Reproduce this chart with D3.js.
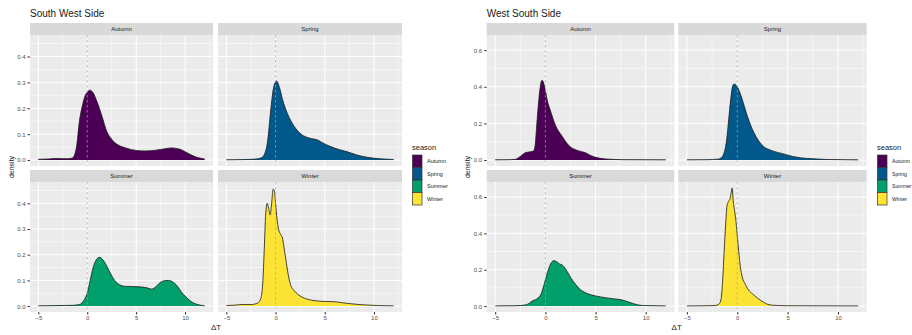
<!DOCTYPE html>
<html>
<head>
<meta charset="utf-8">
<script src="https://cdn.jsdelivr.net/npm/d3@7"></script>
<style>
  body { margin: 0; background: #fff; }
  text { font-family: "Liberation Sans", Arial, sans-serif; }
</style>
</head>
<body>
<div id="svg"></div>
<script>
// ---- data: [ΔT, density] ----
const seasons = ['Autumn', 'Spring', 'Summer', 'Winter'];
const seasonColors = ['#4B0055', '#00588B', '#009F6B', '#FDE333'];

const swAutumn = [[-5,0.003],[-4,0.004],[-3.2,0.006],[-2,0.005],[-1.5,0.008],[-1.1,0.05],[-0.8,0.15],[-0.5,0.21],[-0.2,0.25],[0,0.262],[0.25,0.27],[0.6,0.26],[1,0.225],[1.5,0.17],[2,0.11],[2.5,0.08],[3,0.062],[4,0.046],[5,0.037],[6,0.035],[7,0.038],[8,0.044],[8.6,0.047],[9.1,0.045],[9.6,0.04],[10.1,0.03],[10.6,0.02],[11.1,0.012],[11.6,0.007],[12,0.004]];
const swSpring = [[-5,0.001],[-3,0.002],[-2,0.004],[-1.4,0.01],[-1.1,0.025],[-0.8,0.075],[-0.5,0.19],[-0.2,0.28],[0.1,0.305],[0.4,0.28],[0.7,0.235],[1.2,0.18],[1.9,0.13],[2.6,0.1],[3.5,0.084],[4.3,0.077],[4.7,0.068],[5.6,0.052],[6.5,0.04],[7.3,0.032],[8.2,0.02],[9,0.013],[10,0.007],[11,0.004],[12,0.002]];
const swSummer = [[-5,0.001],[-3,0.002],[-1.5,0.003],[-0.8,0.006],[-0.3,0.025],[0,0.05],[0.3,0.1],[0.6,0.15],[0.95,0.182],[1.25,0.19],[1.6,0.18],[1.9,0.162],[2.4,0.125],[2.8,0.1],[3.3,0.083],[3.8,0.077],[4.5,0.076],[5.3,0.075],[6.1,0.071],[6.6,0.066],[7,0.075],[7.4,0.09],[7.9,0.099],[8.3,0.1],[8.7,0.095],[9.2,0.078],[9.6,0.056],[10.1,0.035],[10.6,0.018],[11.2,0.007],[11.8,0.002],[12,0.001]];
const swWinter = [[-5,0.002],[-4,0.004],[-3.5,0.006],[-2.5,0.006],[-1.8,0.012],[-1.5,0.03],[-1.3,0.09],[-1.15,0.22],[-1,0.36],[-0.85,0.4],[-0.7,0.38],[-0.55,0.355],[-0.4,0.4],[-0.25,0.455],[-0.12,0.45],[0,0.4],[0.15,0.34],[0.3,0.3],[0.5,0.28],[0.7,0.265],[0.85,0.23],[1.05,0.18],[1.3,0.12],[1.55,0.08],[1.9,0.06],[2.25,0.046],[2.8,0.033],[3.3,0.026],[4,0.021],[5,0.018],[6,0.017],[6.8,0.013],[7.7,0.009],[8.5,0.006],[9.4,0.004],[10.5,0.002],[12,0.001]];

const wsAutumn = [[-5,0.001],[-3.5,0.002],[-3,0.004],[-2.5,0.02],[-2,0.04],[-1.5,0.045],[-1.17,0.05],[-1,0.09],[-0.85,0.2],[-0.67,0.32],[-0.45,0.42],[-0.33,0.435],[-0.17,0.42],[0,0.38],[0.17,0.33],[0.5,0.27],[1,0.19],[1.67,0.13],[2.33,0.08],[3.33,0.05],[4,0.04],[4.5,0.025],[5,0.015],[6,0.006],[7.7,0.002],[12,0.001]];
const wsSpring = [[-5,0.001],[-3,0.002],[-1.9,0.005],[-1.6,0.012],[-1.3,0.04],[-1.05,0.11],[-0.85,0.22],[-0.65,0.33],[-0.45,0.405],[-0.3,0.415],[0,0.4],[0.25,0.37],[0.5,0.33],[1,0.24],[1.65,0.15],[2.5,0.08],[3.5,0.05],[4.5,0.035],[5.5,0.02],[6.3,0.012],[7.2,0.008],[9,0.003],[12,0.001]];
const wsSummer = [[-5,0.001],[-3,0.002],[-2,0.006],[-1.6,0.016],[-1.33,0.028],[-1,0.035],[-0.67,0.048],[-0.4,0.07],[-0.17,0.11],[0.1,0.165],[0.33,0.205],[0.6,0.24],[0.83,0.25],[1.1,0.245],[1.4,0.232],[1.7,0.225],[2.17,0.19],[2.6,0.15],[3,0.12],[3.5,0.09],[4,0.073],[5,0.056],[6,0.046],[6.8,0.04],[7.7,0.033],[8.3,0.022],[8.8,0.013],[9.3,0.006],[9.8,0.003],[12,0.001]];
const wsWinter = [[-5,0.001],[-3,0.002],[-2.2,0.003],[-1.8,0.012],[-1.6,0.04],[-1.45,0.14],[-1.3,0.3],[-1.15,0.45],[-1.02,0.55],[-0.87,0.575],[-0.72,0.59],[-0.6,0.625],[-0.5,0.65],[-0.4,0.58],[-0.28,0.53],[-0.15,0.48],[0,0.39],[0.15,0.3],[0.3,0.22],[0.5,0.16],[0.8,0.12],[1.1,0.09],[1.5,0.068],[2.1,0.04],[2.6,0.022],[3,0.01],[3.5,0.005],[5,0.002],[12,0.001]];

const xTicks = [-5, 0, 5, 10];
const xMinor = [-2.5, 2.5, 7.5, 12.5];
const swYTicks = [0, 0.1, 0.2, 0.3, 0.4];
const swYMinor = [0.05, 0.15, 0.25, 0.35, 0.45];
const wsYTicks = [0, 0.2, 0.4, 0.6];
const wsYMinor = [0.1, 0.3, 0.5];

const W = 912, H = 335;
const svg = d3.select('#svg').append('svg').attr('width', W).attr('height', H);
const color = d3.scaleOrdinal().domain(seasons).range(seasonColors);

function styleAxis(ag) {
    ag.select('.domain').remove();
    ag.selectAll('line').attr('stroke', '#333');
    ag.selectAll('text').attr('font-size', 6).attr('fill', '#4d4d4d')
        .style('font-family', '"Liberation Sans", Arial, sans-serif');
}

function drawChart(opt) {
    const g = svg.append('g');
    const cols = opt.cols;
    const rows = [{strip: [23, 35], plot: [35, 166]}, {strip: [170, 182], plot: [182, 312]}];

    g.append('text').attr('x', cols[0][0]).attr('y', 17)
        .attr('font-size', 10).attr('fill', '#1a1a1a').text(opt.title);

    opt.series.forEach((data, i) => {
        const col = cols[i % 2], row = rows[Math.floor(i / 2)];
        const x = d3.scaleLinear().domain([-5.85, 12.85]).range(col);
        const y = d3.scaleLinear().domain(opt.yDomain).range([row.plot[1], row.plot[0]]);
        const p = g.append('g');

        // strip
        p.append('rect').attr('x', col[0]).attr('y', row.strip[0])
            .attr('width', col[1] - col[0]).attr('height', row.strip[1] - row.strip[0]).attr('fill', '#D9D9D9');
        p.append('text').attr('x', (col[0] + col[1]) / 2).attr('y', (row.strip[0] + row.strip[1]) / 2 + 2)
            .attr('text-anchor', 'middle').attr('font-size', 6).attr('fill', '#1a1a1a').text(seasons[i]);

        // panel background + grid
        p.append('rect').attr('x', col[0]).attr('y', row.plot[0])
            .attr('width', col[1] - col[0]).attr('height', row.plot[1] - row.plot[0]).attr('fill', '#EBEBEB');
        xMinor.filter(v => x(v) < col[1]).forEach(v => p.append('line')
            .attr('x1', x(v)).attr('x2', x(v)).attr('y1', row.plot[0]).attr('y2', row.plot[1])
            .attr('stroke', '#fff').attr('stroke-width', 0.5));
        opt.yMinor.forEach(v => p.append('line')
            .attr('x1', col[0]).attr('x2', col[1]).attr('y1', y(v)).attr('y2', y(v))
            .attr('stroke', '#fff').attr('stroke-width', 0.5));
        xTicks.forEach(v => p.append('line')
            .attr('x1', x(v)).attr('x2', x(v)).attr('y1', row.plot[0]).attr('y2', row.plot[1])
            .attr('stroke', '#fff').attr('stroke-width', 1));
        opt.yTicks.forEach(v => p.append('line')
            .attr('x1', col[0]).attr('x2', col[1]).attr('y1', y(v)).attr('y2', y(v))
            .attr('stroke', '#fff').attr('stroke-width', 1));

        // density area
        const area = d3.area().x(d => x(d[0])).y0(y(0)).y1(d => y(d[1])).curve(d3.curveMonotoneX);
        const line = d3.line().x(d => x(d[0])).y(d => y(d[1])).curve(d3.curveMonotoneX);
        p.append('path').datum(data).attr('d', area).attr('fill', color(seasons[i]));
        p.append('path').datum(data).attr('d', line).attr('fill', 'none')
            .attr('stroke', '#1a1a1a').attr('stroke-width', 0.8);

        // dashed zero line
        p.append('line').attr('x1', x(0)).attr('x2', x(0)).attr('y1', row.plot[0]).attr('y2', row.plot[1])
            .attr('stroke', '#a6a6a6').attr('stroke-width', 0.7).attr('stroke-dasharray', '2.5,2.5');

        // y axis on left column, x axis on bottom row
        if (i % 2 === 0) {
            const ya = d3.axisLeft(y).tickValues(opt.yTicks).tickFormat(d3.format('.1f')).tickSize(2.5).tickPadding(2);
            styleAxis(p.append('g').attr('transform', `translate(${col[0]},0)`).call(ya));
        }
        if (i >= 2) {
            const xa = d3.axisBottom(x).tickValues(xTicks).tickSize(2.5).tickPadding(1.5);
            styleAxis(p.append('g').attr('transform', `translate(0,${row.plot[1]})`).call(xa));
        }
    });

    // axis titles
    g.append('text').attr('x', (cols[0][0] + cols[1][1]) / 2).attr('y', 330)
        .attr('text-anchor', 'middle').attr('font-size', 8).attr('fill', '#1a1a1a').text('ΔT');
    g.append('text').attr('transform', `translate(${opt.densityX},167) rotate(-90)`)
        .attr('text-anchor', 'middle').attr('font-size', 7).attr('fill', '#1a1a1a').text('density');

    // legend
    const lg = g.append('g').attr('transform', `translate(${opt.legendX},0)`);
    lg.append('text').attr('x', 0).attr('y', 150).attr('font-size', 7.5).attr('fill', '#1a1a1a').text('season');
    seasons.forEach((s, k) => {
        lg.append('rect').attr('x', 0.5).attr('y', 155 + k * 12.5).attr('width', 9.5).attr('height', 12.5)
            .attr('fill', color(s)).attr('stroke', '#333').attr('stroke-width', 0.7);
        lg.append('text').attr('x', 15).attr('y', 155 + k * 12.5 + 8.3)
            .attr('font-size', opt.legendFont).attr('fill', '#1a1a1a').text(s);
    });
}

drawChart({
    title: 'South West Side',
    cols: [[30, 213], [218, 402]],
    yDomain: [-0.023, 0.483],
    yTicks: swYTicks, yMinor: swYMinor,
    series: [swAutumn, swSpring, swSummer, swWinter],
    densityX: 14, legendX: 412, legendFont: 5.5
});
drawChart({
    title: 'West South Side',
    cols: [[486.7, 674.3], [678.3, 866.7]],
    yDomain: [-0.0325, 0.6825],
    yTicks: wsYTicks, yMinor: wsYMinor,
    series: [wsAutumn, wsSpring, wsSummer, wsWinter],
    densityX: 470, legendX: 877, legendFont: 5.2
});
</script>
</body>
</html>
